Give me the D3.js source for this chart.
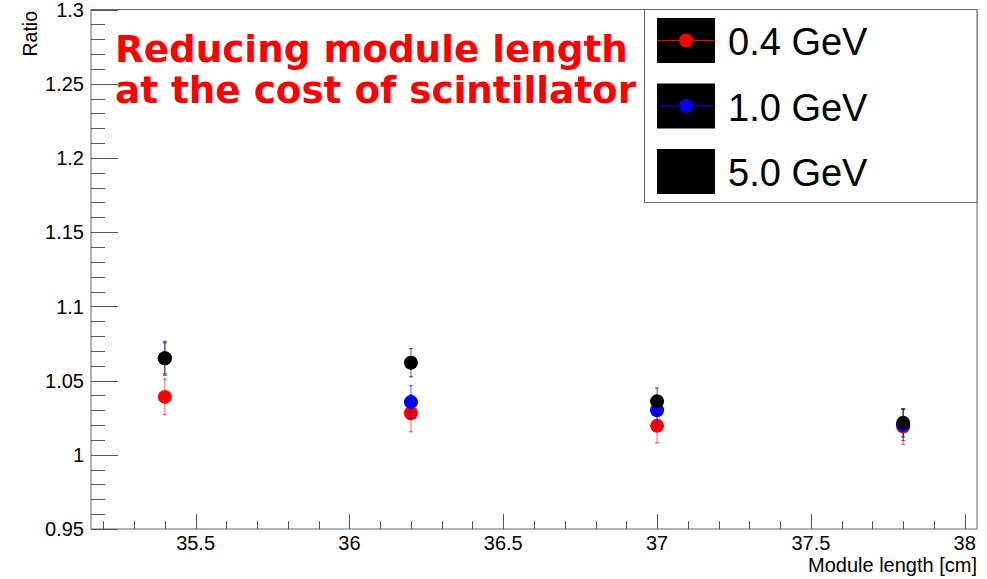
<!DOCTYPE html>
<html><head><meta charset="utf-8">
<script src="https://cdn.jsdelivr.net/npm/d3@7"></script>
<style>body{margin:0;background:#fff}</style>
</head><body>
<svg id="c" width="987" height="579"></svg>
<script>
const moduleLength = [35.4, 36.2, 37.0, 37.8];
const ratio04 = [1.039, 1.028, 1.0195, 1.019];
const err04 = [0.012, 0.0125, 0.0115, 0.012];
const ratio10 = [1.065, 1.0355, 1.030, 1.020];
const err10 = [0.0115, 0.011, 0.0095, 0.0105];
const ratio50 = [1.065, 1.062, 1.036, 1.0215];
const err50 = [0.0105, 0.0095, 0.009, 0.0095];
const seriesNames = ["0.4 GeV", "1.0 GeV", "5.0 GeV"];
const seriesColors = ["#ff0000", "#0000ff", "#000000"];
const xTicks = [35.5, 36, 36.5, 37, 37.5, 38];
const yTicks = [0.95, 1, 1.05, 1.1, 1.15, 1.2, 1.25, 1.3];
const titleLines = ["Reducing module length", "at the cost of scintillator"];

const series = [
  {name: seriesNames[0], color: seriesColors[0], y: ratio04, e: err04},
  {name: seriesNames[1], color: seriesColors[1], y: ratio10, e: err10},
  {name: seriesNames[2], color: seriesColors[2], y: ratio50, e: err50}
];

const L = 91, R = 977, T = 9.5, B = 529;
const x = d3.scaleLinear().domain([35.16, 38.04]).range([L, R]);
const y = d3.scaleLinear().domain([0.95, 1.3]).range([B, T]);
const svg = d3.select("#c");
const font = "Liberation Sans, Arial, Helvetica, sans-serif";
const axisCol = "#555";

// frame
svg.append("rect").attr("x", L).attr("y", T).attr("width", R - L).attr("height", B - T)
  .attr("fill", "none").attr("stroke", "#666").attr("stroke-width", 1);

// y ticks
const yMinor = d3.range(0, 36).map(i => 0.95 + i * 0.01);
svg.append("g").selectAll("line").data(yMinor).join("line")
  .attr("x1", L).attr("x2", (d, i) => L + (i % 5 === 0 ? 27 : 14))
  .attr("y1", d => Math.round(y(d)) + 0.5).attr("y2", d => Math.round(y(d)) + 0.5)
  .attr("stroke", axisCol).attr("stroke-width", 1);
svg.append("g").selectAll("text").data(yTicks).join("text")
  .attr("x", 84).attr("y", d => y(d)).attr("dy", "0.36em")
  .attr("text-anchor", "end").attr("font-family", font).attr("font-size", 20)
  .text(d => d3.format("")(d));

// x ticks
const xMinor = d3.range(0, 29).map(i => +(35.2 + i * 0.1).toFixed(2));
svg.append("g").selectAll("line").data(xMinor).join("line")
  .attr("x1", d => Math.round(x(d)) + 0.5).attr("x2", d => Math.round(x(d)) + 0.5)
  .attr("y1", B).attr("y2", d => B - (Math.abs(d * 2 - Math.round(d * 2)) < 1e-6 ? 15 : 8))
  .attr("stroke", axisCol).attr("stroke-width", 1);
svg.append("g").selectAll("text").data(xTicks).join("text")
  .attr("x", d => x(d)).attr("y", 550)
  .attr("text-anchor", "middle").attr("font-family", font).attr("font-size", 20)
  .text(d => d3.format("")(d));

// axis titles
svg.append("text").attr("x", R).attr("y", 572).attr("text-anchor", "end")
  .attr("font-family", font).attr("font-size", 20).text("Module length [cm]");
svg.append("text").attr("transform", "translate(37,11) rotate(-90)").attr("text-anchor", "end")
  .attr("font-family", font).attr("font-size", 19.5).text("Ratio");

// data
series.forEach(s => {
  const g = svg.append("g");
  moduleLength.forEach((m, i) => {
    const cx = x(m), v = s.y[i], e = s.e[i];
    g.append("line").attr("x1", cx).attr("x2", cx).attr("y1", y(v - e)).attr("y2", y(v + e))
      .attr("stroke", s.color).attr("stroke-width", 1).attr("opacity", 0.6);
    [v - e, v + e].forEach(w => g.append("line").attr("x1", cx - 2).attr("x2", cx + 2)
      .attr("y1", y(w)).attr("y2", y(w)).attr("stroke", s.color).attr("stroke-width", 1).attr("opacity", 0.7));
  });
  g.selectAll("circle").data(moduleLength).join("circle")
    .attr("cx", d => x(d)).attr("cy", (d, i) => y(s.y[i])).attr("r", 7).attr("fill", s.color);
});

// title
svg.append("g").selectAll("text").data(titleLines).join("text")
  .attr("x", 115).attr("y", (d, i) => 62 + i * 41)
  .attr("font-family", "DejaVu Sans, sans-serif").attr("font-weight", "bold").attr("font-size", 37.3)
  .attr("fill", "#ff0000").text(d => d);

// legend
const lg = svg.append("g");
lg.append("rect").attr("x", 644.5).attr("y", 9.5).attr("width", R - 644.5).attr("height", 193)
  .attr("fill", "#fff").attr("stroke", "#666").attr("stroke-width", 1);
const rowC = [40.5, 106, 171.5];
series.forEach((s, i) => {
  lg.append("rect").attr("x", 657).attr("y", rowC[i] - 22.5).attr("width", 58).attr("height", 45).attr("fill", "#000");
  lg.append("line").attr("x1", 657).attr("x2", 715).attr("y1", rowC[i]).attr("y2", rowC[i])
    .attr("stroke", s.color).attr("stroke-width", 1);
  lg.append("circle").attr("cx", 686).attr("cy", rowC[i]).attr("r", 7).attr("fill", s.color);
  lg.append("text").attr("x", 728).attr("y", rowC[i] + 14.5).attr("font-family", font)
    .attr("font-size", 38).text(s.name);
});
</script>
</body></html>
